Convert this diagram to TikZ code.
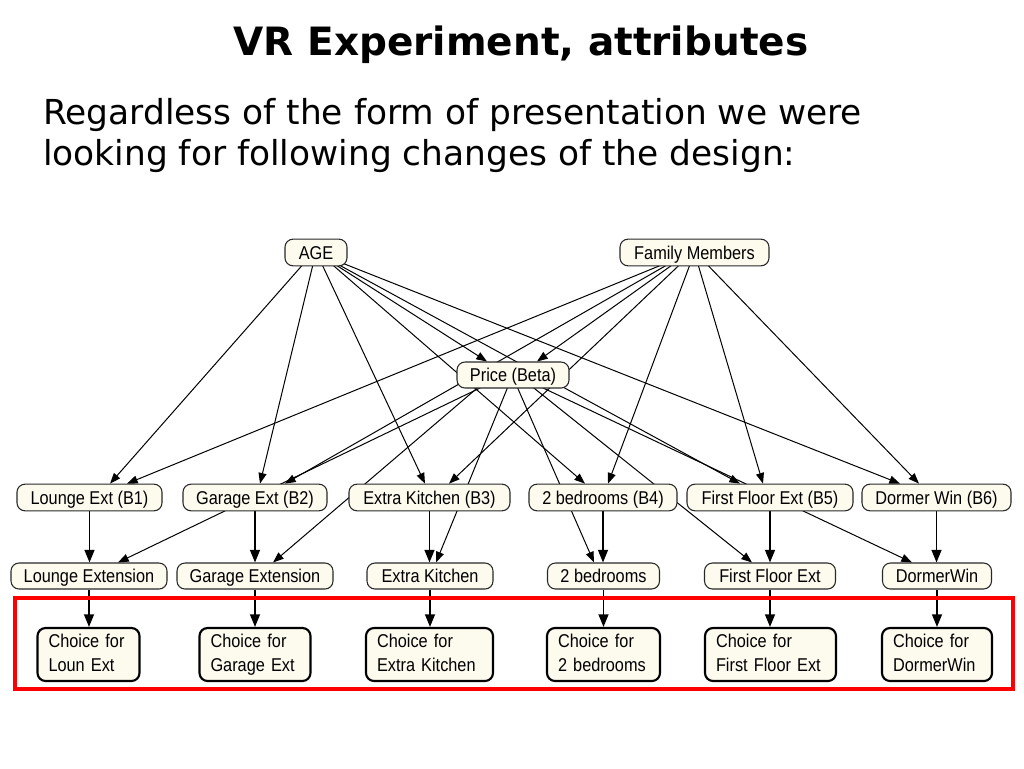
\documentclass[tikz,border=0pt]{standalone}
\usepackage{fontspec}
\setmainfont{DejaVu Sans}
\newfontfamily\nodefont[FakeStretch=0.88]{Liberation Sans}
\usetikzlibrary{arrows.meta,calc}
\pgfdeclarelayer{back}
\pgfdeclarelayer{bg}
\pgfdeclarelayer{fg}
\pgfsetlayers{back,bg,main,fg}
\definecolor{cream}{RGB}{253,250,238}
\definecolor{nodeline}{RGB}{40,40,40}
\newcommand{\lowdepth}{\rule[-3pt]{0pt}{3pt}}
\tikzset{
  bn/.style={draw=nodeline, line width=0.8pt, fill=cream, rounded corners=6pt,
    inner sep=0pt, minimum height=20pt, text height=10.3pt, text depth=0pt,
    font=\nodefont\fontsize{13.9}{16}\selectfont},
  cn/.style={draw=black, line width=1.6pt, fill=cream, rounded corners=6pt,
    align=left, inner xsep=8.25pt, inner ysep=0pt, minimum height=39.75pt,
    font=\nodefont\fontsize{13.9}{18}\selectfont},
  ed/.style={-{Triangle[length=8pt,width=6pt]}, line width=0.75pt},
  vd/.style={-{Triangle[length=9.5pt,width=7.5pt]}, line width=1.1pt},
  titletext/.style={font=\bfseries\fontsize{29.25}{34}\selectfont, inner sep=0pt},
  bodytext/.style={font=\fontsize{25.8}{31}\selectfont, inner sep=0pt, anchor=base west}
}
\begin{document}
\begin{tikzpicture}[x=0.75pt,y=-0.75pt]
\begin{pgfonlayer}{back}
\fill[white] (0,0) rectangle (1024,768);
\end{pgfonlayer}
\useasboundingbox (0,0) rectangle (1024,768);

% texts
\node[titletext, anchor=base] (title) at (521,55) {VR Experiment, attributes};
\node[bodytext] (body1) at (43,124) {Regardless of the form of presentation we were};
\node[bodytext] (body2) at (43,165) {looking for following changes of the design:};

% top nodes
\node[bn, minimum width=46.5pt] (age) at (316,252.5) {AGE};
\node[bn, minimum width=111.75pt] (fm) at (694.5,252.5) {Family Members};
\node[bn, minimum width=84pt, minimum height=19.5pt] (price) at (513,375) {Price (Beta)};

% B row
\node[bn, minimum width=108.75pt] (b1) at (89.5,497.5) {Lounge Ext (B1)};
\node[bn, minimum width=108pt] (b2) at (255,497.5) {Garage Ext (B2)};
\node[bn, minimum width=120.75pt] (b3) at (429.5,497.5) {Extra Kitchen (B3)};
\node[bn, minimum width=111pt] (b4) at (603,497.5) {2 bedrooms (B4)};
\node[bn, minimum width=124.5pt] (b5) at (770,497.5) {First Floor Ext (B5)};
\node[bn, minimum width=111.75pt] (b6) at (936.5,497.5) {Dormer Win (B6)};

% second row
\node[bn, minimum width=117pt, minimum height=19.5pt] (r1) at (89,576) {Lounge Extension};
\node[bn, minimum width=117pt, minimum height=19.5pt] (r2) at (255,576) {Garage Extension};
\node[bn, minimum width=94.5pt, minimum height=19.5pt] (r3) at (430,576) {Extra Kitchen};
\node[bn, minimum width=84pt, minimum height=19.5pt] (r4) at (603.5,576) {2 bedrooms};
\node[bn, minimum width=98.25pt, minimum height=19.5pt] (r5) at (770,576) {First Floor Ext};
\node[bn, minimum width=81.75pt, minimum height=19.5pt] (r6) at (937,576) {DormerWin};

% choice row
\node[cn, text width=60pt] (c1) at (88.5,654.5) {Choice for\\Loun Ext\lowdepth};
\node[cn, text width=66.75pt] (c2) at (255,654.5) {Choice for\\Garage Ext\lowdepth};
\node[cn, text width=78.75pt] (c3) at (429.5,654.5) {Choice for\\Extra Kitchen\lowdepth};
\node[cn, text width=68.25pt] (c4) at (603.5,654.5) {Choice for\\2 bedrooms\lowdepth};
\node[cn, text width=81.75pt] (c5) at (770.5,654.5) {Choice for\\First Floor Ext\lowdepth};
\node[cn, text width=66pt] (c6) at (937,654.5) {Choice for\\DormerWin\lowdepth};

\begin{pgfonlayer}{bg}
% AGE
\draw[ed] ($(age.south)+(-13,-2)$) -- ($(b1.north)+(20.5,0)$);
\draw[ed] ($(age.south)+(-3,-2)$) -- ($(b2.north)+(5,0)$);
\draw[ed] ($(age.south)+(6,-2)$) -- ($(b3.north)+(-4.5,0)$);
\draw[ed] ($(age.south)+(19,-2)$) -- ($(price.north)+(-26,0)$);
\draw[ed] ($(age.south)+(16,-2)$) -- ($(b4.north)+(-18,0)$);
\draw[ed] ($(age.south)+(22,-2)$) -- ($(b5.north)+(-30,0)$);
\draw[ed] ($(age.south)+(27,-3)$) -- ($(b6.north)+(-36.5,0)$);
% Family Members
\draw[ed] ($(fm.south)+(-31.5,-2)$) -- ($(b1.north)+(37.5,0)$);
\draw[ed] ($(fm.south)+(-26.5,-2)$) -- ($(b2.north)+(30,0)$);
\draw[ed] ($(fm.south)+(-21.5,-2)$) -- ($(price.north)+(24,0)$);
\draw[ed] ($(fm.south)+(-14.5,-2)$) -- ($(b3.north)+(19.5,0)$);
\draw[ed] ($(fm.south)+(-4.5,-2)$) -- ($(b4.north)+(5,0)$);
\draw[ed] ($(fm.south)+(3.5,-2)$) -- ($(b5.north)+(-7,0)$);
\draw[ed] ($(fm.south)+(12.5,-2)$) -- ($(b6.north)+(-17.5,0)$);
% Price
\draw[ed] ($(price.south)+(-30,-2)$) -- ($(r1.north)+(29,0)$);
\draw[ed] ($(price.south)+(-34,-2)$) -- ($(r2.north)+(18,0)$);
\draw[ed] ($(price.south)+(-5,-2)$) -- ($(r3.north)+(6,0)$);
\draw[ed] ($(price.south)+(4,-2)$) -- ($(r4.north)+(-9.5,0)$);
\draw[ed] ($(price.south)+(19,-2)$) -- ($(r5.north)+(-18,0)$);
\draw[ed] ($(price.south)+(27,-2)$) -- ($(r6.north)+(-25,0)$);
% verticals
\foreach \i in {1,...,6}{
  \draw[vd] (b\i.south) -- (b\i.south |- r\i.north);
  \draw[vd] (r\i.south) -- (r\i.south |- c\i.north);
}
\end{pgfonlayer}

\begin{pgfonlayer}{fg}
\draw[red, line width=3pt] (15,598) rectangle (1013,689);
\end{pgfonlayer}
\end{tikzpicture}
\end{document}
